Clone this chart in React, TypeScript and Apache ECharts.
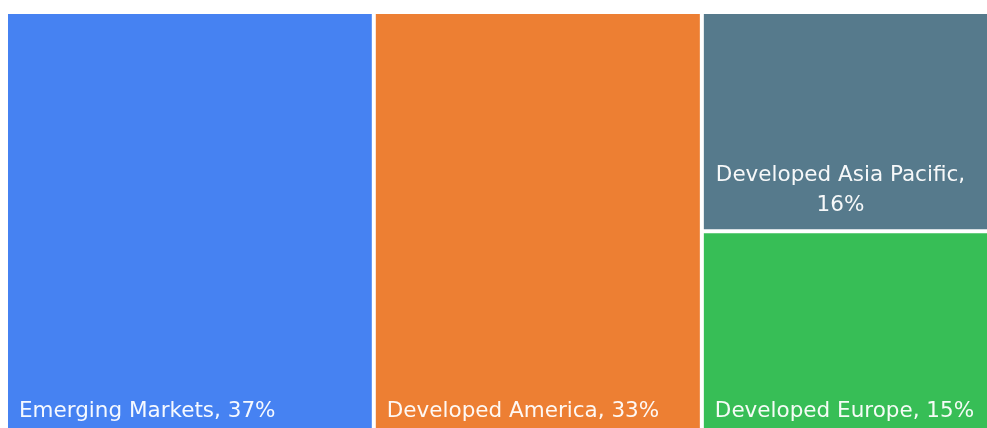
import React, { useEffect, useRef } from "react";
import * as echarts from "echarts";

const categories = ["Emerging Markets", "Developed America", "Developed Asia Pacific", "Developed Europe"];
const shares = [37, 33, 16, 15];
const colors = ["#4682F2", "#ED7F33", "#567A8C", "#37BE56"];

export default function App() {
  const ref = useRef<HTMLDivElement>(null);
  useEffect(() => {
    if (!ref.current) return;
    const chart = echarts.init(ref.current, null, { renderer: "svg" });
    const fontFamily = "'DejaVu Sans', Inter, sans-serif";
    const fontSize = 21.5;
    const textColor = "rgba(255,255,255,0.95)";
    const pad = 11;
    const measure = (s: string) => {
      const c = document.createElement("canvas").getContext("2d");
      if (!c) return s.length * 11;
      c.font = `${fontSize}px ${fontFamily}`;
      return c.measureText(s).width;
    };
    const data = categories.map((name, i) => {
      const wrap = name === "Developed Asia Pacific";
      const line1 = `${name},`;
      return {
        name,
        value: shares[i],
        itemStyle: { color: colors[i] },
        label: wrap
          ? {
              show: true,
              formatter: `${line1}\n${shares[i]}%`,
              position: [pad + 1 + measure(line1) / 2, "100%"],
              offset: [0, -pad],
              align: "center",
              verticalAlign: "bottom",
            }
          : { formatter: `${name}, ${shares[i]}%` },
      };
    });
    chart.setOption({
      animation: false,
      series: [
        {
          type: "treemap",
          left: 0,
          top: 0,
          right: 0,
          bottom: 0,
          roam: false,
          nodeClick: false,
          breadcrumb: { show: false },
          squareRatio: 1,
          itemStyle: { gapWidth: 4, borderWidth: 0 },
          levels: [{ itemStyle: { gapWidth: 4, borderWidth: 0 } }, { itemStyle: { borderWidth: 0 } }],
          label: {
            show: true,
            position: "insideBottomLeft",
            distance: pad,
            padding: 0,
            overflow: "none",
            fontSize,
            lineHeight: 30,
            fontFamily,
            color: textColor,
          },
          emphasis: { disabled: true },
          data,
        },
      ],
    });
    return () => chart.dispose();
  }, []);
  return (
    <div style={{ position: "fixed", left: 8, top: 14, width: 979, height: 414, overflow: "hidden" }}>
      <div ref={ref} style={{ width: 1000, height: 421 }} />
    </div>
  );
}
